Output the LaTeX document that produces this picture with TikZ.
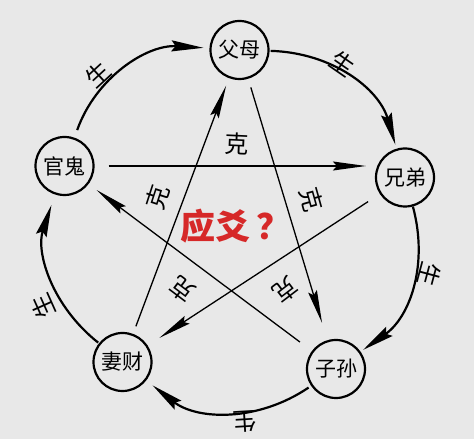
\documentclass[tikz,border=0pt]{standalone}
\usepackage{fontspec}
\setmainfont{Noto Sans CJK SC}
\usepackage{tikz}
\usetikzlibrary{calc,arrows.meta}
\definecolor{bgc}{RGB}{232,232,232}
\definecolor{hong}{RGB}{214,40,40}
\tikzset{qin/.style={draw,circle,line width=2.2pt,minimum size=58pt,inner
sep=0pt,font=\fontsize{21}{21}\selectfont},sheng/.style={-{Stealth[length=32pt,width=11pt,inset=4pt]},line
width=2.2pt},ke/.style={-{Stealth[length=33pt,width=9pt,inset=4pt]},line width=1.3pt}}

\begin{document}
\begin{tikzpicture}[x=1pt,y=1pt,lbl/.style={font=\fontsize{24}{24}\selectfont,inner sep=0pt}]
			\fill[bgc] (0,0) rectangle (474,439);
			\coordinate (o) at (233,217);

			\node[qin] (fm) at (239.5,389) {父母};
			\node[qin] (xd) at (405,261.5) {兄弟};
			\node[qin] (zs) at (336,70) {子孙};
			\node[qin] (qc) at (122.5,77) {妻财};
			\node[qin] (gg) at (64.5,273) {官鬼};

			\draw[sheng,shorten <=8pt,shorten >=6pt] (gg) to[bend left=37] (fm);
			\draw[sheng,shorten <=1pt,shorten >=4pt] (fm) to[bend left=36] (xd);
			\draw[sheng,shorten <=0pt,shorten >=3pt] (xd) to[bend left=35] (zs);
			\draw[sheng,shorten <=3pt,shorten >=8pt] (zs) to[bend left=36] (qc);
			\draw[sheng,shorten <=1pt,shorten >=11pt] (qc) to[bend left=35] (gg);

			\draw[ke,shorten <=14pt,shorten >=9pt] (gg.east) -- (gg.east -| xd.west);
			\draw[ke,shorten <=14pt,shorten >=14pt] (xd) -- (qc);
			\draw[ke,shorten <=8pt,shorten >=8pt] (qc) -- (fm);
			\draw[ke,shorten <=9pt,shorten >=18pt] (fm) -- (zs);
			\draw[ke,shorten <=15pt,shorten >=10pt] (zs) -- (gg);

			\foreach \a/\r [count=\i] in {132.6/200,55.3/193,-15/204,-86.6/200,204.1/208}
				\node[lbl,rotate=\a-90] (s\i) at ($(o)+(\a:\r)$) {生};
			\foreach \a/\r [count=\i] in {87.4/78,162/79,15.6/82,-127/84,-52.6/86}
				\node[lbl,rotate=\a-90] (k\i) at ($(o)+(\a:\r)$) {克};

			\node[font=\fontsize{35}{35}\selectfont\bfseries,text=hong,inner sep=0pt] (yy) at (236,213) {应爻\,？};
		\end{tikzpicture}
\end{document}
